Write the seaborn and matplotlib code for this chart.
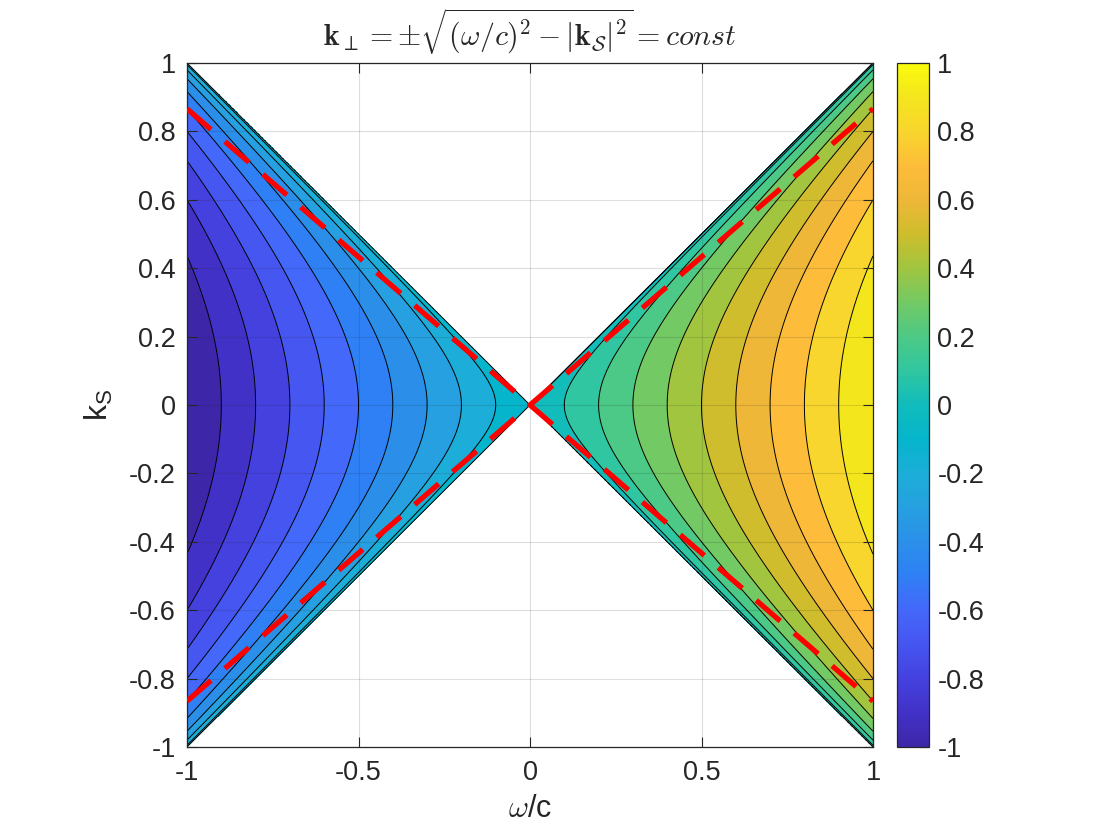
import numpy as np
import seaborn as sns
import matplotlib
matplotlib.use("Agg")
import matplotlib.pyplot as plt
from matplotlib.colors import LinearSegmentedColormap, Normalize
from matplotlib.cm import ScalarMappable

# =========================
# DATA
# =========================
omega_range = [-1.0, 1.0]          # w/c axis limits
ks_range = [-1.0, 1.0]             # k_S axis limits
levels = [-1.0, -0.9, -0.8, -0.7, -0.6, -0.5, -0.4, -0.3, -0.2, -0.1, 0.0,
          0.1, 0.2, 0.3, 0.4, 0.5, 0.6, 0.7, 0.8, 0.9, 1.0]
red_slope = 0.866                  # dashed lines k_S = +/- 0.866 w/c
red_omega = [-1.0, 1.0]
xticks = [-1, -0.5, 0, 0.5, 1]
xticklabels = ["-1", "-0.5", "0", "0.5", "1"]
yticks = [-1, -0.8, -0.6, -0.4, -0.2, 0, 0.2, 0.4, 0.6, 0.8, 1]
yticklabels = ["-1", "-0.8", "-0.6", "-0.4", "-0.2", "0", "0.2", "0.4", "0.6", "0.8", "1"]

# parula-like colormap
parula_pos = [0.00, 0.05, 0.10, 0.15, 0.20, 0.25, 0.30, 0.35, 0.40, 0.45, 0.50,
              0.55, 0.60, 0.65, 0.70, 0.75, 0.80, 0.85, 0.90, 0.95, 1.00]
parula_hex = ["#3d26a8", "#4232c8", "#4442e0", "#4656f0", "#4468fa", "#2f80f5",
              "#2b90ea", "#26a0e0", "#1caed8", "#05b5cc", "#10bcbc", "#30c6a0",
              "#4cc986", "#72c964", "#a0c540", "#cdbd2c", "#eeb738", "#fdbc3a",
              "#f8d52e", "#f4e51e", "#f9fb0e"]
parula = LinearSegmentedColormap.from_list("parula", list(zip(parula_pos, parula_hex)), N=256)

# =========================
# STYLE
# =========================
sns.set_style("ticks")
plt.rcParams["font.family"] = ["Liberation Sans", "DejaVu Sans"]
plt.rcParams["axes.unicode_minus"] = False
plt.rcParams["mathtext.fontset"] = "custom"
plt.rcParams["mathtext.rm"] = "Liberation Sans"
plt.rcParams["mathtext.it"] = "Liberation Sans:italic"
plt.rcParams["contour.negative_linestyle"] = "solid"

# =========================
# FIELD
# =========================
w = np.linspace(omega_range[0], omega_range[1], 801)
k = np.linspace(ks_range[0], ks_range[1], 801)
W, K = np.meshgrid(w, k)
D = W**2 - K**2
Z = np.where(D >= 0, np.sign(W) * np.sqrt(np.clip(D, 0, None)), np.nan)

norm = Normalize(vmin=-1, vmax=1)
band_colors = [parula(norm(v)) for v in levels[:-1]]

# =========================
# PLOT
# =========================
fig = plt.figure(figsize=(11.2, 8.4), dpi=100)
ax = fig.add_axes([187 / 1120, 93 / 840, 686 / 1120, 684 / 840])
cax = fig.add_axes([897 / 1120, 93 / 840, 32 / 1120, 684 / 840])

ax.contourf(W, K, Z, levels=levels, colors=band_colors)
ax.contour(W, K, Z, levels=levels, colors="black", linewidths=0.7, linestyles="solid")
ax.contour(W, K, D, levels=[0], colors="black", linewidths=0.7, linestyles="solid")

red_w = np.array(red_omega)
for s in [red_slope, -red_slope]:
    sns.lineplot(x=red_w, y=s * red_w, ax=ax, color="red", linewidth=3.8,
                 dashes=False, zorder=5).lines[-1].set_dashes((6, 3.5))

ax.set_xlim(omega_range)
ax.set_ylim(ks_range)
ax.set_xticks(xticks)
ax.set_xticklabels(xticklabels)
ax.set_yticks(yticks)
ax.set_yticklabels(yticklabels)
ax.tick_params(direction="in", length=7, width=0.8, labelsize=19.5, colors="#262626",
               top=True, right=True)
ax.tick_params(axis="x", pad=9)
ax.tick_params(axis="y", pad=8)
ax.grid(True, color="#262626", alpha=0.15, linewidth=0.8)
ax.set_axisbelow(False)
for sp in ax.spines.values():
    sp.set_color("#262626")
    sp.set_linewidth(0.9)

ax.set_xlabel(r"$\omega$/c", fontsize=22, color="#262626", math_fontfamily="cm", labelpad=6)
ax.set_ylabel(r"k$_\mathrm{S}$", fontsize=23, color="#262626", labelpad=10)
ax.set_title(r"$\mathbf{k}_\perp = \pm\sqrt{(\omega/c)^2 - |\mathbf{k}_\mathcal{S}|^2} = const$",
             fontsize=21.5, math_fontfamily="cm", pad=12)

cb = fig.colorbar(ScalarMappable(norm=norm, cmap=parula), cax=cax)
cb.set_ticks(yticks)
cb.set_ticklabels(yticklabels)
cb.ax.tick_params(direction="in", length=7, width=0.8, labelsize=19.5, colors="#262626", pad=6)
cb.outline.set_edgecolor("#262626")
cb.outline.set_linewidth(0.9)

fig.savefig("out.png", dpi=100)
